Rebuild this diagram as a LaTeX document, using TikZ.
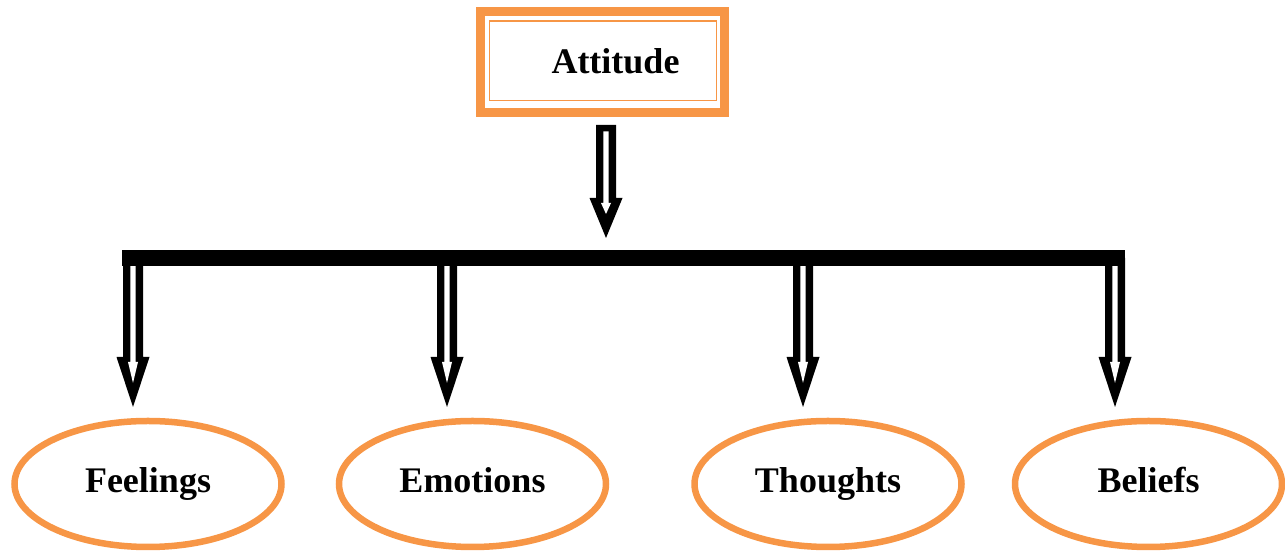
\documentclass[tikz,border=0pt]{standalone}
\usepackage{fontspec}
\setmainfont{Liberation Serif}
\usetikzlibrary{shapes.geometric,calc}
\definecolor{accent}{RGB}{247,150,70}
\newcommand{\hollowarrow}[3]{%
  \fill[black] let \p1=(#1), \p2=(#2) in
    (\x1-10pt,\y1) -- (\x1+10pt,\y1) -- (\x1+10pt,\y2+#3) -- (\x1+16.5pt,\y2+#3)
    -- (\x2,\y2) -- (\x1-16.5pt,\y2+#3) -- (\x1-10pt,\y2+#3) -- cycle;
  \fill[white] let \p1=(#1), \p2=(#2) in
    (\x1-2.7pt,\y1-6.5pt) -- (\x1+2.7pt,\y1-6.5pt) -- (\x1+2.7pt,\y2+#3-5pt) -- (\x1+5pt,\y2+#3-5pt)
    -- (\x2,\y2+24pt) -- (\x1-5pt,\y2+#3-5pt) -- (\x1-2.7pt,\y2+#3-5pt) -- cycle;
}
\tikzset{
  lbl/.style={font=\fontsize{36}{40}\selectfont\bfseries, text height=25pt, text depth=8pt, inner sep=0pt},
  oval/.style={ellipse, draw=accent, line width=6.5pt, minimum width=267pt, minimum height=126pt, inner sep=0pt,
    font=\fontsize{36}{40}\selectfont\bfseries, text height=25pt, text depth=8pt},
  headbox/.style={rectangle, draw=accent, line width=9pt, minimum width=244pt, minimum height=101pt, inner sep=0pt, outer sep=0pt},
  bar/.style={line width=16pt, line cap=butt}
}
\begin{document}
\begin{tikzpicture}[x=1pt,y=1pt]
\useasboundingbox (0,0) rectangle (1285,553);
% title box
\node[headbox] (att) at (602.5,491) {};
\draw[accent, line width=1.8pt] ([shift={(9,-9.5)}]att.north west) rectangle ([shift={(-8,12)}]att.south east);
\node[lbl] (attlabel) at (615.5,487.5) {Attitude};
% ellipses
\node[oval] (feel) at (148,69) {Feelings};
\node[oval] (emo) at (472.5,69) {Emotions};
\node[oval] (thou) at (828,69) {Thoughts};
\node[oval] (bel) at (1148.5,69) {Beliefs};
% coordinates
\coordinate (topstart) at (606,428);
\coordinate (toptip) at (606,315);
\coordinate (barL) at (122,295);
\coordinate (barR) at (1125,295);
\coordinate (s1) at (133,295); \coordinate (t1) at (133,146);
\coordinate (s2) at (447,295); \coordinate (t2) at (447,146);
\coordinate (s3) at (803,295); \coordinate (t3) at (803,146);
\coordinate (s4) at (1115,295); \coordinate (t4) at (1115,146);
% arrows
\hollowarrow{topstart}{toptip}{40pt}
\hollowarrow{s1}{t1}{50pt}
\hollowarrow{s2}{t2}{50pt}
\hollowarrow{s3}{t3}{50pt}
\hollowarrow{s4}{t4}{50pt}
\draw[bar] (barL) -- (barR);
\end{tikzpicture}
\end{document}
